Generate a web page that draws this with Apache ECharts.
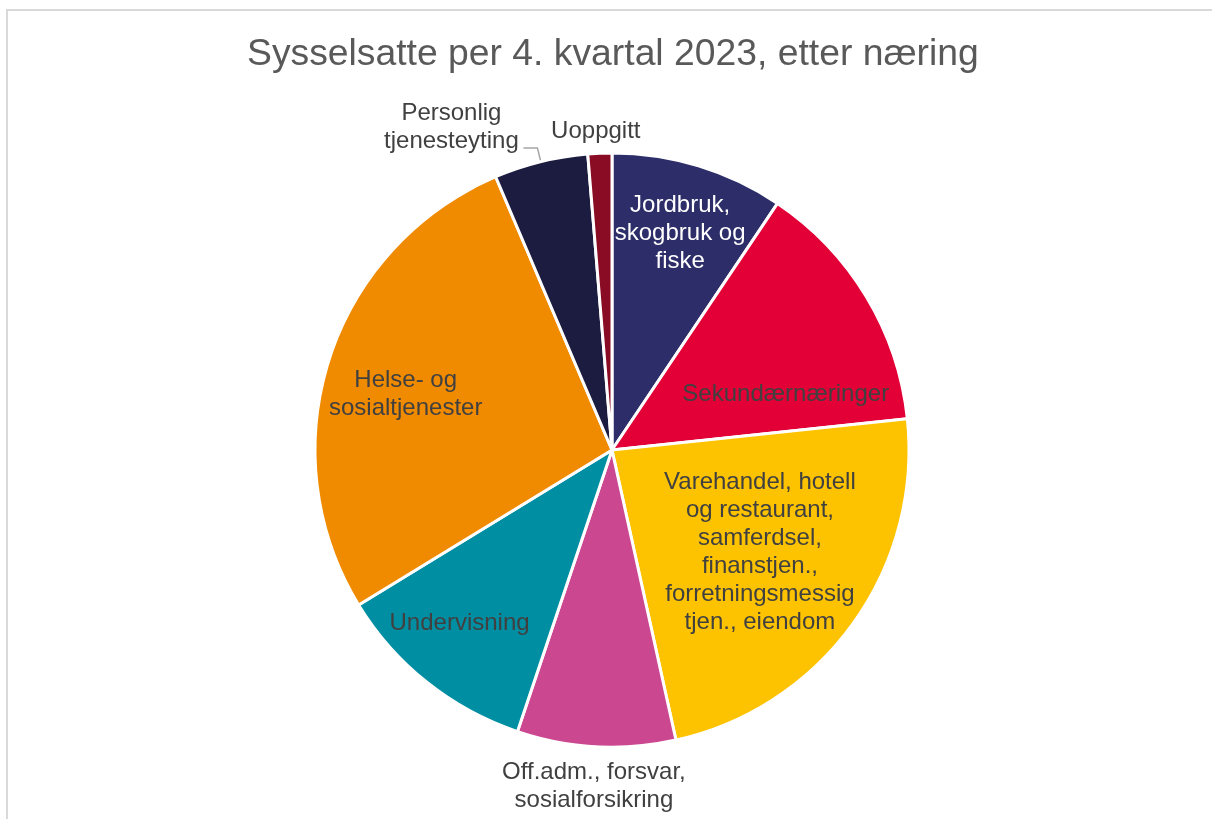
<!DOCTYPE html>
<html>
<head>
<meta charset="utf-8">
<script src="https://cdn.jsdelivr.net/npm/echarts@6/dist/echarts.min.js"></script>
<style>
html, body { margin: 0; padding: 0; background: #fff; }
#chart { width: 1212px; height: 819px; }
</style>
</head>
<body>
<div id="chart"></div>
<script>
// sysselsatte etter næring, andel i prosent (lest av figuren)
const categories = [
    "Jordbruk,\nskogbruk og\nfiske",
    "Sekundærnæringer",
    "Varehandel, hotell\nog restaurant,\nsamferdsel,\nfinanstjen.,\nforretningsmessig\ntjen., eiendom",
    "Off.adm., forsvar,\nsosialforsikring",
    "Undervisning",
    "Helse- og\nsosialtjenester",
    "Personlig\ntjenesteyting",
    "Uoppgitt"
];
const shares = [9.4, 13.9, 23.2, 8.6, 11.1, 27.3, 5.1, 1.3];
const colors = ["#2d2e69", "#e20036", "#fdc300", "#cb4890", "#008ea3", "#f08b00", "#1b1c3f", "#8a0b24"];

// flytting av etiketter i forhold til standardplassering
const labelShift = [
    [24, -72], [44, 23], [25, 14], [-10, 185], [-58, 55], [-62, -9], [-67, -21], [-10, -167]
];

const chart = echarts.init(document.getElementById("chart"));

const pieData = categories.map(function (name, i) {
    const item = {
        name: name,
        value: shares[i],
        itemStyle: { color: colors[i] },
        label: { color: i === 0 ? "#ffffff" : "#404040" }
    };
    if (i === 6) {
        item.label.position = "outside";
        item.labelLine = { show: true };
    }
    return item;
});

chart.setOption({
    animation: false,
    title: {
        text: "Sysselsatte per 4. kvartal 2023, etter næring",
        left: 242,
        top: 31,
        textStyle: {
            fontFamily: "Liberation Sans",
            fontSize: 37.3,
            fontWeight: "normal",
            color: "#595959"
        }
    },
    graphic: [
        {
            type: "rect",
            shape: { x: 7, y: 10, width: 1400, height: 1000 },
            style: { fill: "none", stroke: "#d9d9d9", lineWidth: 2 },
            silent: true
        }
    ],
    series: [
        {
            type: "pie",
            center: [612, 450],
            radius: 297,
            startAngle: 90,
            clockwise: true,
            avoidLabelOverlap: false,
            itemStyle: {
                borderColor: "#ffffff",
                borderWidth: 3
            },
            label: {
                show: true,
                position: "inside",
                formatter: "{b}",
                fontFamily: "Liberation Sans",
                fontSize: 24,
                lineHeight: 28,
                color: "#404040"
            },
            labelLine: {
                show: false,
                length: 14,
                length2: 14,
                smooth: false,
                lineStyle: { color: "#a6a6a6", width: 1.5 }
            },
            labelLayout: function (params) {
                const s = labelShift[params.dataIndex];
                const cfg = { dx: s[0], dy: s[1] };
                if (params.dataIndex === 6) {
                    cfg.align = "center";
                }
                return cfg;
            },
            emphasis: { disabled: true },
            data: pieData
        }
    ]
});
</script>
</body>
</html>
